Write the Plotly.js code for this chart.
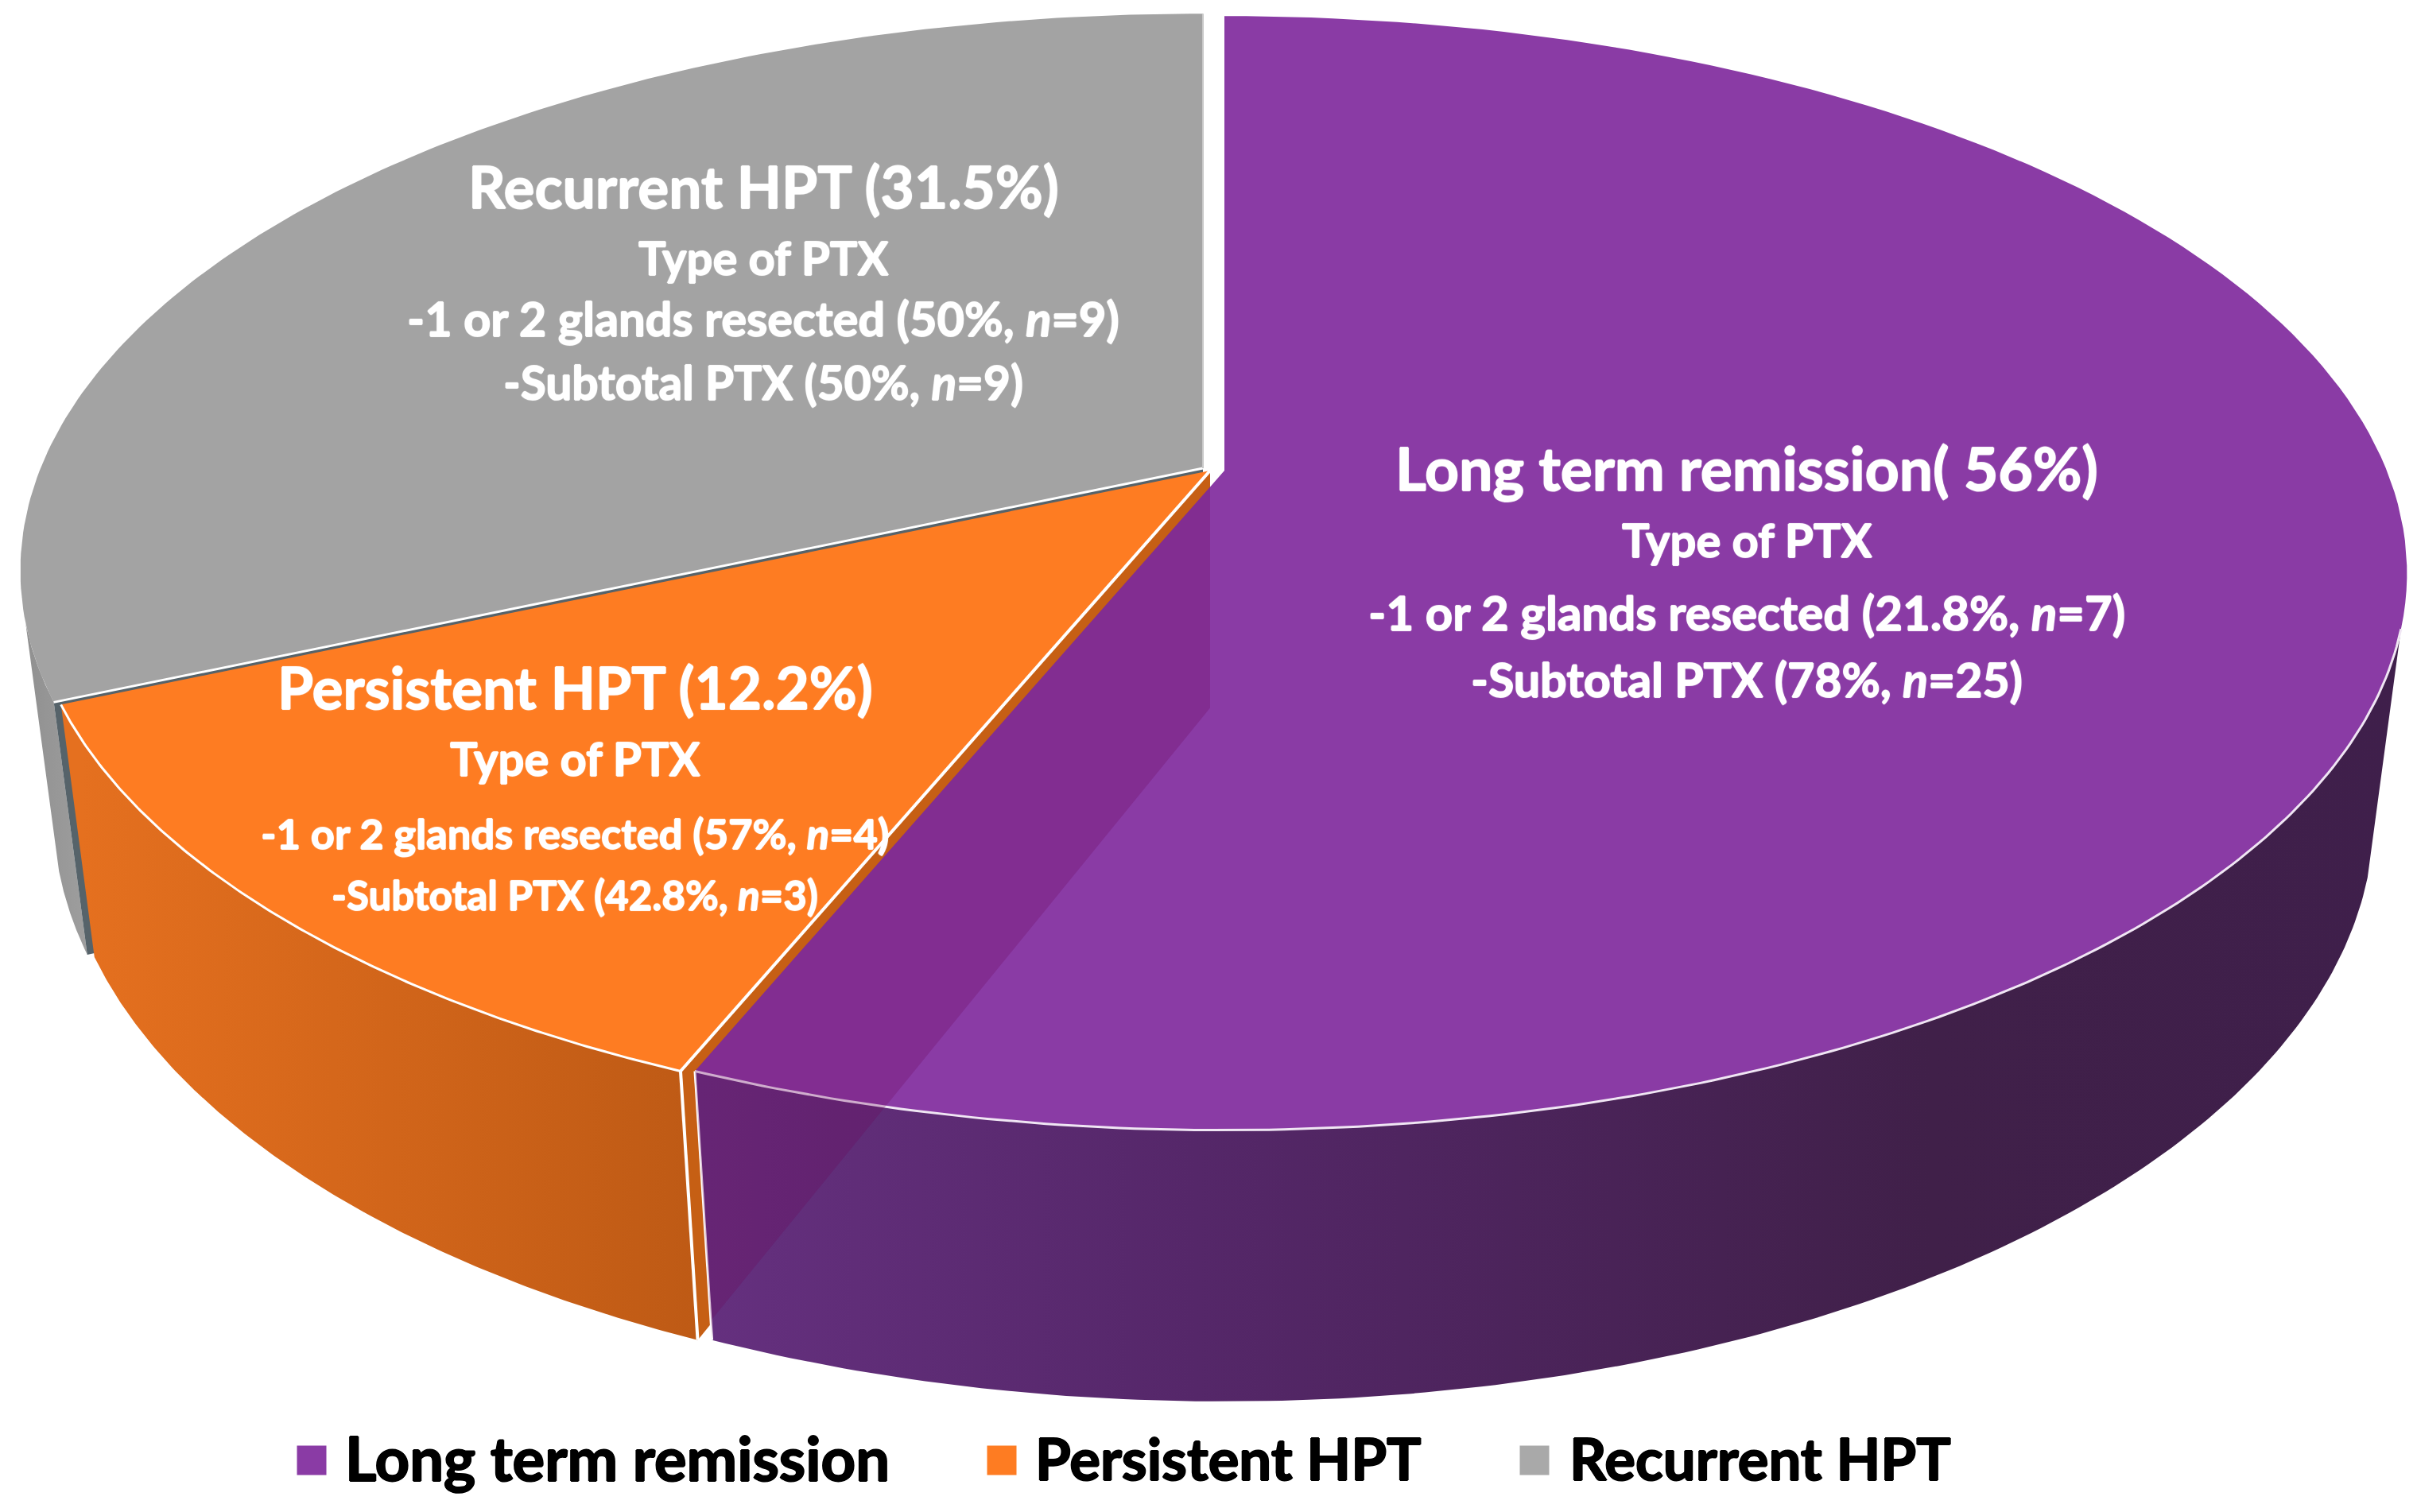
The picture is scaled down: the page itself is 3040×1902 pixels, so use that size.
<!DOCTYPE html>
<html>
<head>
<meta charset="utf-8">
<script src="https://cdn.plot.ly/plotly-3.0.1.min.js"></script>
<style>html,body{margin:0;padding:0;background:#fff}</style>
</head>
<body>
<div id="chart" style="width:3040px;height:1902px"></div>
<script>
// ---- data ----
const categories = ["Long term remission", "Persistent HPT", "Recurrent HPT"];
const shares = [56, 12.2, 31.5];
const sliceTitles = ["Long term remission( 56%)", "Persistent HPT (12.2%)", "Recurrent HPT (31.5%)"];
const typeLabel = "Type of PTX";
const partialLabels = ["-1 or 2 glands resected (21.8%, <i>n</i>=7)", "-1 or 2 glands resected (57%, <i>n</i>=4)", "-1 or 2 glands resected (50%, <i>n</i>=9)"];
const subtotalLabels = ["-Subtotal PTX (78%, <i>n</i>=25)", "-Subtotal PTX (42.8%, <i>n</i>=3)", "-Subtotal PTX (50%, <i>n</i>=9)"];

// ---- style ----
const topColors = ["#8A3BA5", "#FE7C22", "#A3A3A3"];
const legendColors = ["#8A3BA5", "#FE7C22", "#A9A9A9"];
const FONT = "Lato, 'Open Sans', sans-serif";
const apex = [[1540, 592], [1522, 592], [1513, 589], [1522, 588]]; // last: seen-through cut face
const A = 1462, B = 677, K = 0.184, M = 0.0278, D = 311;

// fractions of the circle, clockwise from 12 o'clock
const total = shares.reduce((a, b) => a + b, 0);
const edges = [0];
shares.forEach(s => edges.push(edges[edges.length - 1] + s / total));

function proj(i, t, r, z) {
  const a = 2 * Math.PI * t, u = Math.sin(a) * r, v = Math.cos(a) * r;
  const w = 1 + K * v + M * z;
  return [apex[i][0] + A * u / w, apex[i][1] + (-B * v + D * z) / w];
}
function arc(i, t0, t1, z) {
  const out = [], n = 160;
  for (let j = 0; j <= n; j++) out.push(proj(i, t0 + (t1 - t0) * j / n, 1, z));
  return out;
}
function poly(pts, extra) {
  return Object.assign({
    x: pts.map(p => p[0]), y: pts.map(p => p[1]), type: "scatter", mode: "lines",
    fill: "toself", line: { width: 0 }, hoverinfo: "skip", showlegend: false
  }, extra);
}
function solid(pts, color) { return poly(pts.concat([pts[0]]), { fillcolor: color }); }
function stroke(pts, color, width) {
  return { x: pts.map(p => p[0]), y: pts.map(p => p[1]), type: "scatter", mode: "lines",
    line: { color: color, width: width }, hoverinfo: "skip", showlegend: false };
}
function wall(i, t0, t1, scale, start, stop) {
  const pts = arc(i, t0, t1, 0).concat(arc(i, t0, t1, 1).reverse());
  pts.push(pts[0]);
  return poly(pts, { fillgradient: { type: "horizontal", colorscale: scale, start: start, stop: stop } });
}
function cutFace(i, t) {
  return [proj(i, t, 0, 0), proj(i, t, 1, 0), proj(i, t, 1, 1), proj(i, t, 0, 1)];
}
function topFace(i) {
  return [proj(i, 0, 0, 0)].concat(arc(i, edges[i], edges[i + 1], 0));
}
function along(p, q, x) { // point of line pq at a given x
  const s = (x - p[0]) / (q[0] - p[0]);
  return [x, p[1] + s * (q[1] - p[1])];
}

const traces = [];
// recurrent (grey) body
traces.push(wall(2, edges[2], 0.706, [[0, "#8E8E8E"], [1, "#A0A0A0"]], 20, 120));
traces.push(solid(cutFace(2, edges[2]), "#56636A"));
// persistent (orange) body
traces.push(solid(cutFace(1, edges[1]), "#C65F14"));
traces.push(wall(1, edges[1], edges[2], [[0, "#E5701F"], [1, "#BE5A15"]], 100, 880));
// long-term remission (purple) body
traces.push(wall(0, 0.295, edges[1], [[0, "#65307F"], [0.29, "#552769"], [0.72, "#402049"], [1, "#3F1F4B"]], 880, 3030));
// top faces
const grayTop = topFace(2);
traces.push(solid(grayTop, topColors[2]));
traces.push(stroke([grayTop[0], grayTop[1]], "#FFFFFF", 3));
traces.push(stroke([grayTop[0], grayTop[grayTop.length - 1]], "#C9C9C9", 2));
const orangeTop = topFace(1);
traces.push(solid(orangeTop, topColors[1]));
traces.push(stroke(arc(1, edges[1], edges[2], 0), "#FFFFFF", 3));
traces.push(stroke([orangeTop[0], orangeTop[1]], "#FFFFFF", 4));
traces.push(stroke([proj(1, edges[1], 1, 0), proj(1, edges[1], 1, 1)], "#FFFFFF", 4));
const purpleTop = topFace(0);
traces.push(solid(purpleTop, topColors[0]));
traces.push(stroke(arc(0, 0.295, edges[1], 0), "#F0E6F4", 3));
traces.push(stroke([proj(0, edges[1], 1, 0), proj(0, edges[1], 1, 1)], "#FFFFFF", 3));
// the cut face showing through the purple slice
const pTop = proj(0, edges[1], 0, 0), pCorner = proj(0, edges[1], 1, 0), pBottom = proj(0, edges[1], 1, 1);
const seeApex = proj(3, edges[1], 0, 1), seeCorner = proj(3, edges[1], 1, 1);
traces.push(solid([along(pTop, pCorner, seeApex[0]), pCorner, pBottom, along(seeApex, seeCorner, pBottom[0]), seeApex],
  "rgba(108,4,88,0.25)"));
// legend swatches
traces.push({
  x: [392, 1260, 1930], y: [1837, 1837, 1837], type: "scatter", mode: "markers",
  marker: { symbol: "square", size: 37, color: legendColors, line: { width: 0 } },
  text: categories, hoverinfo: "text", showlegend: false
});

const WHITE_FAT = "0.8px 0 0.8px #fff, -0.8px 0 0.8px #fff, 0 0.8px 0.8px #fff, 0 -0.8px 0.8px #fff";
const BLACK_FAT = "1px 0 0.6px #000, -1px 0 0.6px #000, 0 1px 0.6px #000, 0 -1px 0.6px #000";
function label(text, x, y, size) {
  return {
    text: text, x: x, y: y, xref: "x", yref: "y", showarrow: false,
    xanchor: "center", yanchor: "middle",
    font: { family: FONT, size: size, color: "#FFFFFF", weight: 700, shadow: WHITE_FAT }
  };
}
const titleXY = [[2197, 588], [723, 864], [960, 234]];
const typeXY = [[2197, 678], [723, 953], [960, 323]];
const partialXY = [[2197, 770], [723, 1047], [960, 400]];
const subtotalXY = [[2197, 854], [723, 1125], [960, 480]];
const titleSize = [75, 73, 73];
const typeSize = [58, 58, 58];
const partialSize = [60, 52.5, 59.5];
const subtotalSize = [59, 51, 58.5];
const annotations = [];
categories.forEach((c, i) => {
  annotations.push(label(sliceTitles[i], titleXY[i][0], titleXY[i][1], titleSize[i]));
  annotations.push(label(typeLabel, typeXY[i][0], typeXY[i][1], typeSize[i]));
  annotations.push(label(partialLabels[i], partialXY[i][0], partialXY[i][1], partialSize[i]));
  annotations.push(label(subtotalLabels[i], subtotalXY[i][0], subtotalXY[i][1], subtotalSize[i]));
});
const legendTextX = [432, 1300, 1972];
const legendSize = [76, 72.5, 72.5];
categories.forEach((c, i) => {
  annotations.push({
    text: c, x: legendTextX[i], y: 1833, xref: "x", yref: "y", showarrow: false,
    xanchor: "left", yanchor: "middle",
    font: { family: FONT, size: legendSize[i], color: "#000000", weight: 700, shadow: BLACK_FAT }
  });
});

const hiddenAxis = { visible: false, fixedrange: true, showgrid: false, zeroline: false };
Plotly.newPlot("chart", traces, {
  width: 3040, height: 1902,
  margin: { l: 0, r: 0, t: 0, b: 0, pad: 0 },
  paper_bgcolor: "#FFFFFF", plot_bgcolor: "#FFFFFF",
  showlegend: false,
  xaxis: Object.assign({ range: [0, 3040] }, hiddenAxis),
  yaxis: Object.assign({ range: [1902, 0] }, hiddenAxis),
  annotations: annotations
}, { displayModeBar: false, staticPlot: true });
</script>
</body>
</html>
